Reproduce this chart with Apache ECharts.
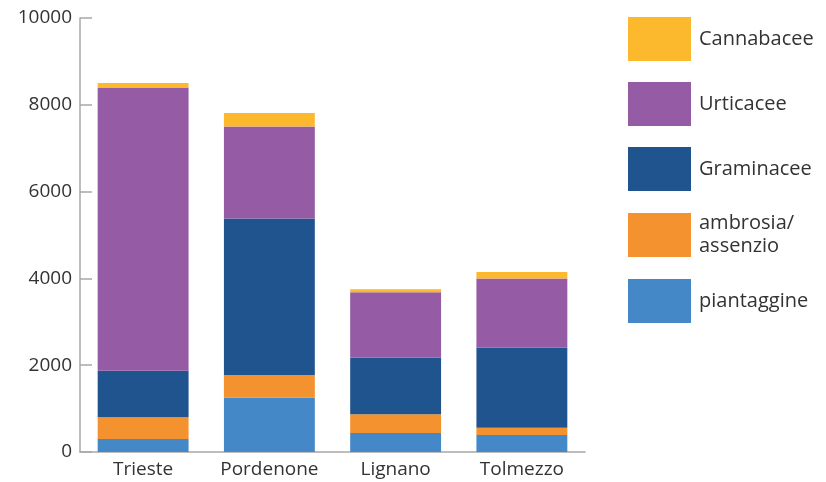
<!DOCTYPE html>
<html>
<head>
<meta charset="utf-8">
<script src="https://cdn.jsdelivr.net/npm/echarts@6/dist/echarts.min.js"></script>
<style>
  html, body { margin: 0; padding: 0; background: #fff; }
  #chart { width: 826px; height: 482px; }
</style>
</head>
<body>
<div id="chart"></div>
<script>
// Pollen counts per station, stacked by pollen family
const stations = ['Trieste', 'Pordenone', 'Lignano', 'Tolmezzo'];
const piantaggine = [300, 1250, 440, 390];
const ambrosiaAssenzio = [500, 525, 430, 170];
const graminacee = [1070, 3605, 1310, 1840];
const urticacee = [6530, 2120, 1500, 1600];
const cannabacee = [100, 310, 70, 150];
const yTicks = [0, 2000, 4000, 6000, 8000, 10000];

const FONT = '"Open Sans", "Noto Sans", sans-serif';
const TEXT = '#333333';
const AXIS = '#a8a8a8';

const layers = [
  { name: 'piantaggine', data: piantaggine, color: '#4488c8' },
  { name: 'ambrosia/\nassenzio', data: ambrosiaAssenzio, color: '#f3922f' },
  { name: 'Graminacee', data: graminacee, color: '#20548e' },
  { name: 'Urticacee', data: urticacee, color: '#955ba4' },
  { name: 'Cannabacee', data: cannabacee, color: '#fdb92d' }
];

const chart = echarts.init(document.getElementById('chart'), null, { renderer: 'canvas' });

chart.setOption({
  animation: false,
  backgroundColor: '#ffffff',
  grid: { left: 80, right: 241, top: 18, bottom: 30, containLabel: false },
  legend: {
    orient: 'vertical',
    left: 628,
    top: 17,
    padding: 0,
    itemWidth: 63,
    itemHeight: 44,
    itemGap: 21,
    icon: 'rect',
    selectedMode: false,
    data: layers.map(l => l.name).reverse(),
    textStyle: {
      fontFamily: FONT,
      fontSize: 20,
      color: TEXT,
      lineHeight: 23,
      padding: [0, 0, 0, 3]
    }
  },
  xAxis: {
    type: 'category',
    data: stations,
    axisLine: { show: true, lineStyle: { color: AXIS, width: 1.5 } },
    axisTick: { show: false },
    axisLabel: {
      interval: 0,
      fontFamily: FONT,
      fontSize: 19,
      color: TEXT,
      margin: 8
    }
  },
  yAxis: {
    type: 'value',
    min: 0,
    max: 10000,
    interval: 2000,
    axisLine: { show: true, lineStyle: { color: AXIS, width: 1.5 } },
    axisTick: { show: true, inside: true, length: 12, lineStyle: { color: AXIS, width: 1.5 } },
    splitLine: { show: false },
    axisLabel: {
      fontFamily: FONT,
      fontSize: 19,
      color: TEXT,
      margin: 8,
      formatter: v => (yTicks.indexOf(v) >= 0 ? String(v) : '')
    }
  },
  series: layers.map(l => ({
    name: l.name,
    type: 'bar',
    stack: 'pollen',
    data: l.data,
    barCategoryGap: '28%',
    itemStyle: { color: l.color },
    emphasis: { disabled: true }
  }))
});
</script>
</body>
</html>
